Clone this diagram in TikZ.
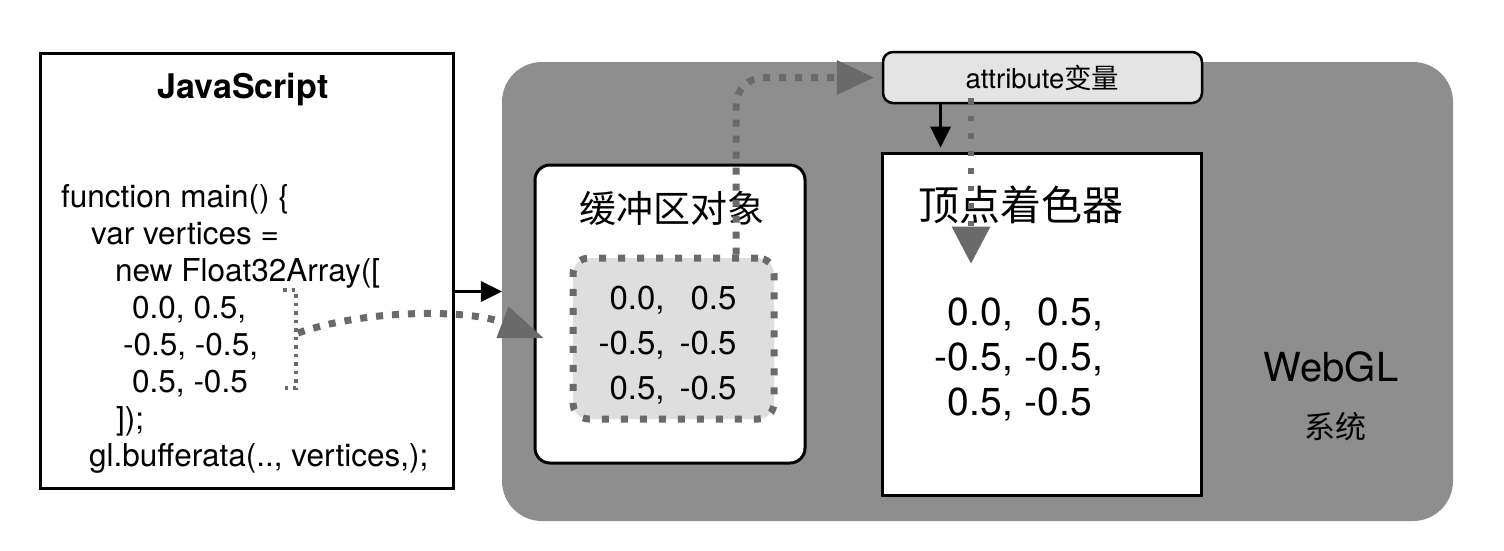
\documentclass[tikz,border=0pt]{standalone}
\usepackage{fontspec}
\setmainfont{TeX Gyre Heros}
\newfontfamily\cjk{Noto Sans CJK SC}
\usetikzlibrary{arrows.meta,calc}

\definecolor{sysgrey}{HTML}{8E8E8E}
\definecolor{dotgrey}{HTML}{6A6A6A}
\definecolor{datafill}{HTML}{DEDEDE}
\definecolor{attrfill}{HTML}{E4E4E4}

\tikzset{
  box/.style={draw=black, line width=3pt, fill=white, inner sep=0pt},
  label/.style={inner sep=0pt},
  codeline/.style={anchor=base west, inner sep=0pt, font=\fontsize{31.5}{37}\selectfont},
  bigdots/.style={draw=dotgrey, line width=7pt, dash pattern=on 7pt off 9pt},
  meddots/.style={draw=dotgrey, line width=5.5pt, dash pattern=on 5.5pt off 12pt},
  smalldots/.style={draw=dotgrey, line width=3.5pt, dash pattern=on 3.5pt off 5pt},
  blackarrow/.style={draw=black, line width=3pt, -{Triangle[length=21pt, width=21pt, line width=0pt]}},
  headjs/.style={-{Triangle[length=44pt, width=34pt, line width=0pt]}},
  headattr/.style={-{Triangle[length=37pt, width=35pt, line width=0pt]}},
  headvs/.style={-{Triangle[length=37pt, width=39pt, line width=0pt]}},
}

\begin{document}
\begin{tikzpicture}[x=1pt, y=-1pt]
\useasboundingbox (0,0) rectangle (1504,550);

% WebGL system background
\node[fill=sysgrey, rounded corners=40pt, minimum width=951pt, minimum height=459pt, inner sep=0pt] (glsys) at (977.5,291.5) {};
\node[label, font=\fontsize{40}{44}\selectfont] (webgl) at (1331,367) {WebGL};
\node[label, font=\cjk\fontsize{31}{34}\selectfont] (xitong) at (1335,427) {系统};

% JavaScript program
\node[box, minimum width=413pt, minimum height=435pt] (js) at (246.5,270.5) {};
\node[label, font=\bfseries\fontsize{34}{40}\selectfont] (jstitle) at (243,90) {JavaScript};
\node[codeline] (c1) at (61,207) {function main() \{};
\node[codeline] (c2) at (91,244) {var vertices =};
\node[codeline] (c3) at (115,281) {new Float32Array([};
\node[codeline] (c4) at (132,318) {0.0, 0.5,};
\node[codeline] (c5) at (123,355) {-0.5, -0.5,};
\node[codeline] (c6) at (132,392) {0.5, -0.5};
\node[codeline] (c7) at (116,429) {]);};
\node[codeline] (c8) at (89,466) {gl.bufferata(.., vertices,);};

% buffer object
\node[box, rounded corners=15pt, minimum width=270pt, minimum height=298pt] (buf) at (670,314) {};
\node[label, font=\cjk\fontsize{37}{40}\selectfont] (buftitle) at (672,208) {缓冲区对象};
\node[draw=dotgrey, fill=datafill, line width=7pt, dash pattern=on 7pt off 12pt, rounded corners=16pt,
      minimum width=201pt, minimum height=161pt, inner sep=0pt] (bufdata) at (673.5,338.5) {};
\node[label, font=\fontsize{33}{45}\selectfont] (bufnums) at (667.5,345)
  {\begin{tabular}{@{}r@{\hspace{15pt}}r@{}}0.0, & 0.5\\ -0.5, & -0.5\\ 0.5, & -0.5\end{tabular}};

% vertex shader
\node[box, minimum width=319pt, minimum height=342pt] (vs) at (1041.5,324) {};
\node[label, font=\cjk\fontsize{41}{44}\selectfont] (vstitle) at (1021,205) {顶点着色器};
\node[label, font=\fontsize{39}{45}\selectfont] (vsnums) at (1019,361)
  {\begin{tabular}{@{}r@{\hspace{12pt}}r@{}}0.0, & 0.5,\\ -0.5, & -0.5,\\ 0.5, & -0.5\phantom{,}\end{tabular}};

% attribute variable
\node[draw=black, line width=2.5pt, fill=attrfill, rounded corners=10pt, minimum width=319pt, minimum height=51pt,
      inner sep=0pt, font=\fontsize{27.5}{30}\selectfont] (attr) at (1042.5,77.5) {attribute{\cjk 变量}};

% connectors
\draw[blackarrow] (js.east |- glsys.west) -- (glsys.west);
\draw[smalldots] (283,290) -- (296,290) -- (296,388) -- (283,388);
\coordinate (brk) at (298,333);
\draw[bigdots, headjs] (brk) .. controls (370,308) and (470,310) .. ([xshift=10pt,yshift=-24pt]buf.west);
\draw[bigdots, headattr, rounded corners=28pt] ([xshift=62.5pt]bufdata.north) |- ([xshift=-8pt]attr.west);
\draw[blackarrow, shorten >=4pt] ([xshift=-102pt]attr.south) -- ([xshift=-101pt]vs.north);
\draw[meddots, headvs] ([xshift=-71.5pt,yshift=6pt]attr.south) -- ([xshift=-70.5pt,yshift=-112pt]vs.north);
\end{tikzpicture}
\end{document}
